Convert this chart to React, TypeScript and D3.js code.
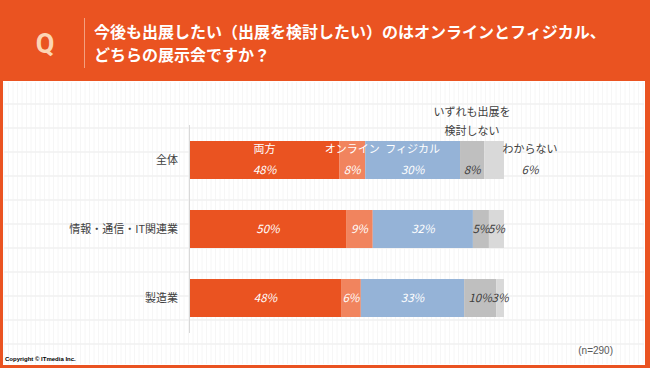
import React from "react";
import * as d3 from "d3";

const categories = ["全体", "情報・通信・IT関連業", "製造業"];
const seriesNames = ["両方", "オンライン", "フィジカル", "いずれも出展を検討しない", "わからない"];
const both = [47.5, 49.7, 48.1];
const online = [8.3, 8.5, 6.3];
const physical = [30.2, 31.9, 32.9];
const neither = [7.7, 5.1, 10.2];
const unknown = [6.3, 4.8, 2.5];
const labelsBoth = ["48%", "50%", "48%"];
const labelsOnline = ["8%", "9%", "6%"];
const labelsPhysical = ["30%", "32%", "33%"];
const labelsNeither = ["8%", "5%", "10%"];
const labelsUnknown = ["6%", "5%", "3%"];

const colors = ["#EA5321", "#F1845E", "#95B3D7", "#BFBFBF", "#D9D9D9"];
const textColors = ["#ffffff", "#ffffff", "#ffffff", "#404040", "#404040"];

const W = 650;
const H = 368;
const FONT = "'Noto Sans CJK JP', 'Noto Sans', sans-serif";

export default function App() {
  const series = [both, online, physical, neither, unknown];
  const labels = [labelsBoth, labelsOnline, labelsPhysical, labelsNeither, labelsUnknown];
  const x = d3.scaleLinear().domain([0, 100]).range([190, 504]);
  const y = d3.scalePoint<string>().domain(categories).range([160, 298]);
  const barH = 38;

  const rows = categories.map((c, i) => {
    const vals = series.map((s) => s[i]);
    const stack: { x0: number; x1: number; k: number }[] = [];
    let acc = 0;
    vals.forEach((v, k) => {
      stack.push({ x0: acc, x1: acc + v, k });
      acc += v;
    });
    return { c, i, stack };
  });

  const vLines = d3.range(4, 645, 4.5);
  const hLines = d3.range(104, 360, 24);

  return (
    <svg width={W} height={H} style={{ display: "block", position: "absolute", left: 0, top: 0 }}>
      <rect x={0} y={0} width={W} height={H} fill="#EA5321" />
      <rect x={3} y={81} width={642} height={284} fill="#ffffff" />
      <g>
        {vLines.map((vx, i) => (
          <line key={"v" + i} x1={vx} x2={vx} y1={82} y2={364} stroke="#f6f6f6" strokeWidth={1} />
        ))}
        {hLines.map((hy, i) => (
          <line key={"h" + i} x1={4} x2={644} y1={hy} y2={hy} stroke="#f1f1f1" strokeWidth={1.5} />
        ))}
      </g>
      {/* header */}
      <text x={45} y={53} textAnchor="middle" fill="#FCD5B4" fontFamily="Roboto, 'Noto Sans', sans-serif" fontWeight="bold" fontSize={27}>Q</text>
      <line x1={84.5} x2={84.5} y1={18} y2={68} stroke="#F3A07F" strokeWidth={1} />
      <text x={94} y={37.5} fill="#ffffff" fontFamily={FONT} fontWeight="bold" fontSize={16}>今後も出展したい（出展を検討したい）のはオンラインとフィジカル、</text>
      <text x={94} y={60.5} fill="#ffffff" fontFamily={FONT} fontWeight="bold" fontSize={16}>どちらの展示会ですか？</text>

      {/* axis line */}
      <line x1={189.5} x2={189.5} y1={125} y2={333} stroke="#d9d9d9" strokeWidth={1} />

      {rows.map((r) => {
        const cy = y(r.c) as number;
        const labelY = r.i === 0 ? cy + 14 : cy + 4;
        return (
          <g key={r.c}>
            <text x={178} y={cy + 4} textAnchor="end" fill="#404040" fontFamily={FONT} fontSize={11}>{r.c}</text>
            {r.stack.map((s) => (
              <rect key={s.k} x={x(s.x0)} y={cy - barH / 2} width={x(s.x1) - x(s.x0)} height={barH} fill={colors[s.k]} />
            ))}
            {r.stack.map((s) => {
              const outside = r.i === 0 && s.k === 4;
              const cx = outside ? 530 : (x(s.x0) + x(s.x1)) / 2;
              return (
                <text key={"l" + s.k} x={cx} y={labelY} textAnchor="middle" fill={textColors[s.k]} fontFamily={FONT} fontStyle="italic" fontSize={11.5}>
                  {labels[s.k][r.i]}
                </text>
              );
            })}
          </g>
        );
      })}

      {/* series names on first row */}
      {(() => {
        const r = rows[0];
        const cy = y(r.c) as number;
        return (
          <g fontFamily={FONT} fontSize={11}>
            {r.stack.slice(0, 3).map((s) => (
              <text key={"n" + s.k} x={(x(s.x0) + x(s.x1)) / 2} y={cy - 7} textAnchor="middle" fill="#ffffff">
                {seriesNames[s.k]}
              </text>
            ))}
            <text x={472} y={116} textAnchor="middle" fill="#404040">{seriesNames[3].slice(0, 7)}</text>
            <text x={472} y={135} textAnchor="middle" fill="#404040">{seriesNames[3].slice(7)}</text>
            <text x={530} y={cy - 7} textAnchor="middle" fill="#404040">{seriesNames[4]}</text>
          </g>
        );
      })()}

      <text x={613} y={354} textAnchor="end" fill="#595959" fontFamily="'Liberation Sans', sans-serif" fontSize={10}>(n=290)</text>
      <text x={5} y={361} fill="#000000" fontFamily="'Liberation Sans', Arial, sans-serif" fontWeight="bold" fontSize={6}>Copyright © ITmedia Inc.</text>
    </svg>
  );
}
